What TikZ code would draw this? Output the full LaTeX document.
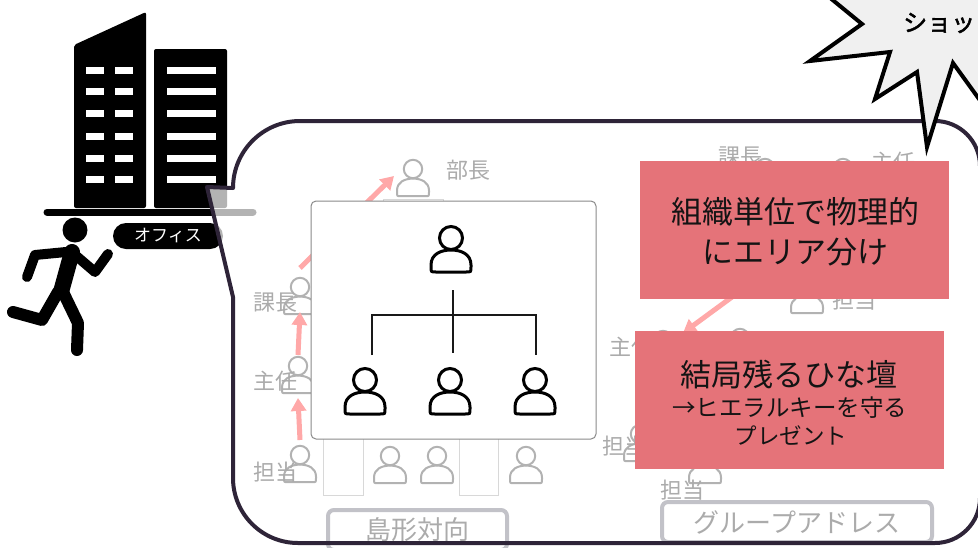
\documentclass[tikz,border=0pt]{standalone}
\usepackage{fontspec}
\usetikzlibrary{arrows.meta,calc}
\newfontfamily\jp{Noto Sans CJK JP}
\newfontfamily\jpbold[FakeBold=2]{Noto Sans CJK JP}
\definecolor{bubbleline}{HTML}{2E2438}
\definecolor{faded}{HTML}{ABABAB}
\definecolor{fadedicon}{HTML}{B2B2B2}
\definecolor{desk}{HTML}{D8D8D8}
\definecolor{tagframe}{HTML}{C2C2C8}
\definecolor{pinkarrow}{HTML}{FFA8A8}
\definecolor{notered}{HTML}{E57379}
\definecolor{burst}{HTML}{F0F0F0}
\definecolor{panelline}{HTML}{8A8A8A}

\begin{document}
\begin{tikzpicture}[x=1pt,y=-1pt,
  person/.pic={
    \draw (0,0) circle (11.5);
    \draw (-20,29) -- (-20,27) .. controls (-20,16) and (-10,12) .. (0,12)
          .. controls (10,12) and (20,16) .. (20,27) -- (20,29)
          .. controls (20,34) .. (15,34) -- (-15,34) .. controls (-20,34) .. (-20,29) -- cycle;
  },
  fadedperson/.style={color=fadedicon, line width=2pt, scale=0.8},
  boldperson/.style={color=black, line width=3pt},
  fadedtext/.style={text=faded, inner sep=0pt, font=\jp\fontsize{22}{22}\selectfont},
  tag/.style={draw=tagframe, line width=4pt, rounded corners=6pt, inner sep=0pt,
    text=faded, font=\jp\fontsize{26}{26}\selectfont},
  deskbox/.style={draw=desk, line width=1pt},
  pinkarr/.style={draw=pinkarrow, line width=5pt, -{Triangle[length=13pt,width=15pt]}},
  treeline/.style={line width=1.6pt, draw=black!90},
  notebox/.style={fill=notered, inner sep=0pt, minimum width=309pt, minimum height=138pt},
  notetext/.style={inner sep=0pt, text=black!92},
  bubbleedge/.style={draw=bubbleline, line width=4pt, line join=round},
]
\useasboundingbox (0,0) rectangle (978,547);
\clip (0,0) rectangle (978,547);

% ---- office towers ----
\fill[rounded corners=2pt] (74,208) -- (74,45) -- (146,12) -- (146,208) -- cycle;
\fill[rounded corners=2pt] (154,49) rectangle (227,208);
\foreach \wy in {70,91,113,136,158,179}{
  \fill[white] (86,\wy-3.5) rectangle (104,\wy+3.5);
  \fill[white] (115,\wy-3.5) rectangle (133,\wy+3.5);
  \fill[white] (167,\wy-3.5) rectangle (216,\wy+3.5);
}
\draw[line width=7pt, line cap=round] (47,212) -- (253,212);
\node[fill=black, rounded corners=13pt, minimum width=110pt, minimum height=26pt,
  inner sep=0pt, text=white, font=\jp\fontsize{17}{17}\selectfont] (office) at (168,236) {オフィス};

% ---- running figure ----
\begin{scope}[line cap=round, line join=round]
  \fill (75,230) circle (12.5);
  \draw[line width=16pt] (72,252) -- (61,292);
  \draw[line width=10pt] (74,254) -- (95,272) -- (108,254);
  \draw[line width=10pt] (66,252) -- (35,255) -- (27,277);
  \draw[line width=12pt] (58,292) -- (42,320) -- (13,312);
  \draw[line width=12pt] (64,294) -- (78,323) -- (77,350);
\end{scope}

% ---- speech bubble (translucent fill) ----
\fill[white, fill opacity=0.7] (207,187) -- (233,297) -- (233,478)
  .. controls (233,513.9) and (262.1,543) .. (298,543) -- (935,543)
  .. controls (959.8,543) and (980,522.8) .. (980,498) -- (980,166)
  .. controls (980,141.2) and (959.8,121) .. (935,121) -- (300,121)
  .. controls (263,121) and (233,151) .. (233,188) -- cycle;

% ---- faded floor plan, left ----
\draw[deskbox] (383,199) rectangle (443,260);
\draw[deskbox] (323,400) rectangle (363,495);
\draw[deskbox] (459,400) rectangle (498,495);

\coordinate (bucho) at (413,169);
\coordinate (kacho) at (300,287);
\coordinate (shunin) at (298,366);
\coordinate (tanto) at (300,455);
\coordinate (seatA) at (390,456);
\coordinate (seatB) at (437,456);
\coordinate (seatC) at (526,456);
\foreach \p in {bucho,kacho,shunin,tanto,seatA,seatB,seatC}
  \pic[fadedperson] at (\p) {person};
\node[fadedtext] (lblbucho) at (468,170) {部長};
\node[fadedtext] (lblkacho) at (275,303) {課長};
\node[fadedtext] (lblshunin) at (275,381) {主任};
\node[fadedtext] (lbltanto) at (275,472) {担当};
\draw[pinkarr] ($(kacho)+(0,-19)$) -- ($(bucho)+(-19,7)$);
\draw[pinkarr] ($(shunin)+(0,-11)$) -- ($(kacho)+(0,25)$);
\draw[pinkarr] ($(tanto)+(0,-15)$) -- ($(shunin)+(0,32)$);
\node[tag, minimum width=179pt, minimum height=40pt] (island) at (417.5,530) {島形対向};

% ---- faded floor plan, right ----
\coordinate (rkacho) at (765,168);
\coordinate (rshunin) at (843,168);
\coordinate (rtanto) at (807,286);
\coordinate (rsubA) at (663,340);
\coordinate (rsubB) at (740,338);
\coordinate (rsubC) at (640,434);
\coordinate (rsubD) at (705,456);
\foreach \p in {rkacho,rshunin,rtanto,rsubA,rsubB,rsubC,rsubD}
  \pic[fadedperson] at (\p) {person};
\node[fadedtext] (rlblkacho) at (740,157) {課長};
\node[fadedtext] (rlblshunin) at (893,162) {主任};
\node[fadedtext] (rlbltanto) at (854,300) {担当};
\node[fadedtext] (rlblsub) at (631,347) {主任};
\node[fadedtext] (rlblsubC) at (624,446) {担当};
\node[fadedtext] (rlblsubD) at (682,490) {担当};
\draw[pinkarr] ($(rtanto)+(-60,0)$) -- ($(rsubA)+(20,-7)$);
\node[tag, minimum width=270pt, minimum height=40pt] (freeaddr) at (797,522) {グループアドレス};

% ---- hierarchy panel ----
\node[draw=panelline, line width=1pt, fill=white, rounded corners=5pt,
  minimum width=285pt, minimum height=238pt, inner sep=0pt] (panel) at (453.5,320) {};
\coordinate (boss) at (451,238);
\coordinate (kid1) at (365,380);
\coordinate (kid2) at (450,380);
\coordinate (kid3) at (535,380);
\foreach \p in {boss,kid1,kid2,kid3}
  \pic[boldperson] at (\p) {person};
\draw[treeline] ($(boss)+(2,52)$) -- ($(boss)+(2,115)$);
\draw[treeline] ($(kid1)+(7,-25)$) -- ($(kid1)+(7,-65)$) -- ($(kid3)+(1,-65)$) -- ($(kid3)+(1,-25)$);

% ---- notes ----
\node[notebox] (note1) at (794.5,230) {};
\node[notetext, align=center, font=\jp\fontsize{31}{40}\selectfont] (note1text) at (795,232)
  {組織単位で物理的\\にエリア分け};
\node[notebox] (note2) at (789.5,400) {};
\node[notetext, font=\jp\fontsize{31}{31}\selectfont] (note2a) at (789,375) {結局残るひな壇};
\node[notetext, font=\jp\fontsize{23.5}{23.5}\selectfont] (note2b) at (789.5,408) {→ヒエラルキーを守る};
\node[notetext, font=\jp\fontsize{22.5}{22.5}\selectfont] (note2c) at (791,435) {プレゼント};

% ---- speech bubble outline ----
\draw[bubbleedge] (207,187) -- (233,297) -- (233,478)
  .. controls (233,513.9) and (262.1,543) .. (298,543) -- (935,543)
  .. controls (959.8,543) and (980,522.8) .. (980,498) -- (980,166)
  .. controls (980,141.2) and (959.8,121) .. (935,121) -- (300,121)
  .. controls (263,121) and (233,151) .. (233,188) -- cycle;

% ---- burst ----
\filldraw[fill=burst, draw=black, line width=4pt, line join=miter]
  (818,-12) -- (862,24) -- (810,61) -- (890,52) -- (875,99) -- (917,72)
  -- (927,147) -- (953,63) -- (1000,128) -- (1000,-20) -- cycle;
\node[anchor=west, inner sep=0pt, font=\jpbold\fontsize{24}{24}\selectfont] (shock) at (903,23) {ショッ};
\end{tikzpicture}
\end{document}
